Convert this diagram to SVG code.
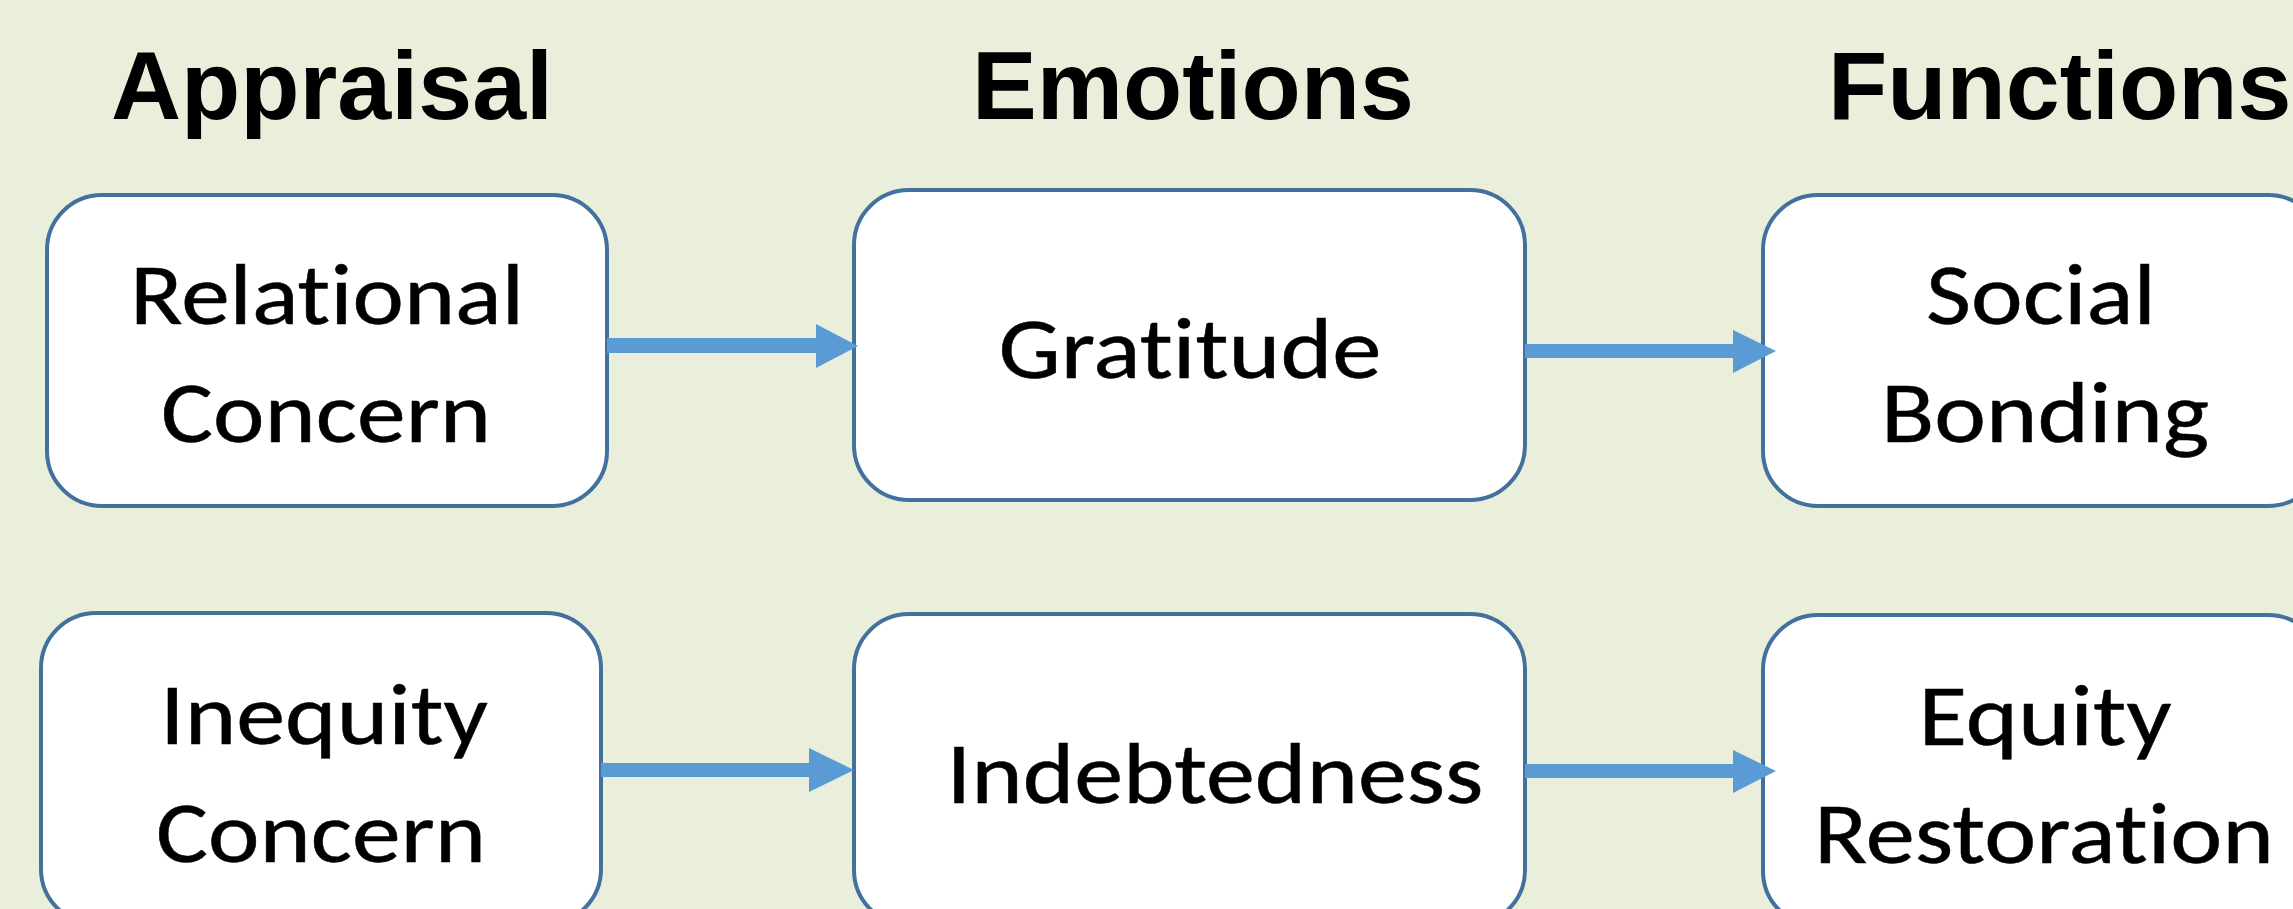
<svg xmlns="http://www.w3.org/2000/svg" width="2293" height="909" viewBox="0 0 2293 909">
<style>
.bg{fill:#EAEFDC}
.box{fill:#FFFFFF;stroke:#41719C;stroke-width:4}
.hdr{font-family:"Liberation Sans",Arial,sans-serif;font-weight:bold;font-size:97px;fill:#000}
.lbl{font-family:Carlito,Calibri,Lato,sans-serif;font-size:87px;fill:#000;stroke:#000;stroke-width:0.5;text-anchor:middle;font-variant-ligatures:none;font-feature-settings:"liga" 0,"clig" 0}
.arr{fill:#5B9BD5}
</style>
<rect class="bg" x="0" y="0" width="2293" height="909"/>
<g id="headers">
<text class="hdr" x="111" y="119">Appraisal</text>
<text class="hdr" x="972" y="119">Emotions</text>
<text class="hdr" x="1828" y="119">Functions</text>
</g>
<g id="relational">
<rect class="box" x="47" y="195" width="560" height="311" rx="55"/>
<text class="lbl" x="327" y="324" textLength="394" lengthAdjust="spacingAndGlyphs">Relational</text>
<text class="lbl" x="326" y="442" textLength="330" lengthAdjust="spacingAndGlyphs">Concern</text>
</g>
<g id="gratitude">
<rect class="box" x="854" y="190" width="671" height="310" rx="55"/>
<text class="lbl" x="1190" y="378" textLength="383" lengthAdjust="spacingAndGlyphs">Gratitude</text>
</g>
<g id="social">
<rect class="box" x="1763" y="195" width="560" height="311" rx="55"/>
<text class="lbl" x="2041" y="324" textLength="230" lengthAdjust="spacingAndGlyphs">Social</text>
<text class="lbl" x="2045" y="442" textLength="328" lengthAdjust="spacingAndGlyphs">Bonding</text>
</g>
<g id="inequity">
<rect class="box" x="41" y="613" width="560" height="311" rx="55"/>
<text class="lbl" x="324" y="744" textLength="328" lengthAdjust="spacingAndGlyphs">Inequity</text>
<text class="lbl" x="321" y="862" textLength="330" lengthAdjust="spacingAndGlyphs">Concern</text>
</g>
<g id="indebtedness">
<rect class="box" x="854" y="614" width="671" height="311" rx="55"/>
<text class="lbl" x="1215" y="803" textLength="537" lengthAdjust="spacingAndGlyphs">Indebtedness</text>
</g>
<g id="equity">
<rect class="box" x="1763" y="615" width="560" height="311" rx="55"/>
<text class="lbl" x="2045" y="745" textLength="253" lengthAdjust="spacingAndGlyphs">Equity</text>
<text class="lbl" x="2044" y="863" textLength="460" lengthAdjust="spacingAndGlyphs">Restoration</text>
</g>
<g id="connectors">
<polygon class="arr" points="607,338 816,338 816,324 858,346 816,368 816,353 607,353"/>
<polygon class="arr" points="1525,344 1733,344 1733,330 1776,351 1733,373 1733,358 1525,358"/>
<polygon class="arr" points="601,763 809,763 809,748 854,770 809,792 809,777 601,777"/>
<polygon class="arr" points="1525,764 1733,764 1733,750 1776,771 1733,793 1733,778 1525,778"/>
</g>
</svg>
